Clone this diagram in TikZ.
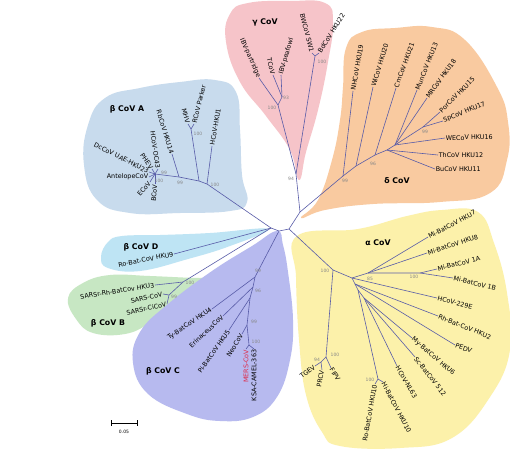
\documentclass[tikz,border=0pt]{standalone}
\usepackage{fontspec}
\setmainfont{DejaVu Sans}
\usepackage{tikz}
\usetikzlibrary{arrows}
\usetikzlibrary{positioning}

\definecolor{branchcol}{RGB}{88,92,168}
\definecolor{bootcol}{RGB}{135,135,135}
\definecolor{cladeA}{RGB}{200,219,237}
\definecolor{cladeG}{RGB}{246,196,201}
\definecolor{cladeDl}{RGB}{249,202,160}
\definecolor{cladeAl}{RGB}{252,241,170}
\definecolor{cladeD}{RGB}{190,228,244}
\definecolor{cladeB}{RGB}{199,231,195}
\definecolor{cladeC}{RGB}{183,186,239}
\definecolor{merscol}{RGB}{222,40,70}

\begin{document}
\begin{tikzpicture}[x=1pt,y=-1pt,
  branch/.style={draw=branchcol,line width=0.6pt},
  leaf/.style={font=\fontsize{6.4}{7}\selectfont,inner sep=0.6pt},
  boot/.style={font=\fontsize{4.5}{5}\selectfont,text=bootcol,inner sep=0pt},
  clade/.style={font=\fontsize{7.8}{9}\selectfont\bfseries}]
  \fill[white] (0,0) rectangle (510,450);
  \useasboundingbox (0,0) rectangle (510,450);

  % clade areas
  \fill[cladeA] plot[smooth cycle,tension=0.75] coordinates {(84,165) (88,125) (105,98) (140,88) (180,82) (215,80) (236,92) (240,130) (242,175) (247,202) (230,211) (180,213) (130,213) (97,200)};
  \fill[cladeG] plot[smooth cycle,tension=0.75] coordinates {(226,42) (230,14) (248,3) (290,1) (325,3) (333,22) (328,62) (318,110) (306,152) (299,180) (290,150) (266,116) (240,82)};
  \fill[cladeDl] plot[smooth cycle,tension=0.75] coordinates {(301,218) (318,200) (332,160) (340,120) (343,87) (346,48) (362,32) (395,28) (432,27) (465,40) (497,87) (508,122) (507,160) (490,193) (440,202) (373,204) (325,210)};
  \fill[cladeAl] plot[smooth cycle,tension=0.7] coordinates {(297,236) (358,229) (407,216) (442,210) (478,212) (494,243) (507,293) (510,350) (490,397) (452,438) (400,448) (340,446) (322,432) (306,395) (299,340) (296,277)};
  \fill[cladeD] plot[smooth cycle,tension=0.7] coordinates {(101,257) (108,242) (122,236) (160,235) (210,233) (268,229) (230,246) (188,259) (140,271) (108,268)};
  \fill[cladeB] plot[smooth cycle,tension=0.7] coordinates {(68,298) (83,283) (110,275) (150,276) (200,278) (212,276) (178,304) (150,323) (125,334) (93,333) (76,319)};
  \fill[cladeC] plot[smooth cycle,tension=0.7] coordinates {(277,231) (283,245) (288,272) (293,320) (290,360) (277,397) (253,417) (220,421) (187,414) (148,394) (133,363) (140,332) (168,304) (212,271) (252,246)};

  % clade names
  \node[clade] (nA) at (127,109) {β CoV A};
  \node[clade] (nG) at (265,22) {γ CoV};
  \node[clade] (nDl) at (397,181) {δ CoV};
  \node[clade] (nAl) at (378,243) {α CoV};
  \node[clade] (nD) at (141,247) {β CoV D};
  \node[clade] (nB) at (108,323) {β CoV B};
  \node[clade] (nC) at (163,371) {β CoV C};

  % root
  \coordinate (A) at (271,228);
  \coordinate (B) at (279,231);
  \coordinate (C) at (289,229);
  \draw[branch] (A) -- (B) -- (C);

  % beta CoV A
  \coordinate (a1) at (207,184);
  \coordinate (a2) at (199,181);
  \coordinate (a3) at (179,177);
  \coordinate (a4) at (155,174);
  \coordinate (mN) at (191,129);
  \coordinate (tHKU1) at (212,146);
  \coordinate (tMHV) at (188,124);
  \coordinate (tRCoV) at (194,124);
  \coordinate (tRb) at (172,154);
  \coordinate (tOC) at (158,169);
  \coordinate (tPHEV) at (152,169);
  \coordinate (tDc) at (149,172);
  \coordinate (tAnt) at (149,177);
  \coordinate (tE) at (150,182);
  \coordinate (tBC) at (155,184);
  \draw[branch] (A) -- (a1) -- (a2) -- (a3) -- (a4);
  \draw[branch] (a1) -- (tHKU1);
  \draw[branch] (a2) -- (mN) -- (tMHV);
  \draw[branch] (mN) -- (tRCoV);
  \draw[branch] (a3) -- (tRb);
  \draw[branch] (a4) -- (tOC);
  \draw[branch] (a4) -- (tPHEV);
  \draw[branch] (a4) -- (tDc);
  \draw[branch] (a4) -- (tAnt);
  \draw[branch] (a4) -- (tE);
  \draw[branch] (a4) -- (tBC);
  \node[leaf,anchor=west,rotate=80] (lHKU1) at (tHKU1) {HCoV-HKU1};
  \node[leaf,anchor=west,rotate=76] (lRCoV) at (tRCoV) {RCoV Parker};
  \node[leaf,anchor=east,rotate=-75] (lMHV) at (tMHV) {MHV};
  \node[leaf,anchor=east,rotate=-73] (lRb) at (tRb) {RbCoV HKU14};
  \node[leaf,anchor=east,rotate=-82] (lOC) at (tOC) {HCoV-OC43};
  \node[leaf,anchor=east,rotate=-55] (lPHEV) at (tPHEV) {PHEV};
  \node[leaf,anchor=east,rotate=-27] (lDc) at (tDc) {DcCoV UAE-HKU23};
  \node[leaf,anchor=east] (lAnt) at (tAnt) {AntelopeCoV};
  \node[leaf,anchor=east,rotate=50] (lE) at (tE) {ECoV};
  \node[leaf,anchor=east,rotate=85] (lBC) at (tBC) {BCoV};
  \node[boot] (bA1) at (215,185) {100};
  \node[boot] (bA2) at (198,134) {100};
  \node[boot] (bA3) at (180,183) {99};
  \node[boot] (bA4) at (164,173) {99};
  \node[boot] (bA5) at (159,181) {100};

  % beta CoV D
  \coordinate (tHKU9) at (174,254);
  \draw[branch] (A) -- (tHKU9);
  \node[leaf,anchor=east,rotate=11] (lHKU9) at (tHKU9) {Ro-Bat-CoV HKU9};

  % beta CoV B
  \coordinate (bN) at (183,282);
  \coordinate (sN) at (169,295);
  \coordinate (tHKU3) at (155,285);
  \coordinate (tSARS) at (163,294);
  \coordinate (tCi) at (167,304);
  \draw[branch] (A) -- (bN) -- (tHKU3);
  \draw[branch] (bN) -- (sN) -- (tSARS);
  \draw[branch] (sN) -- (tCi);
  \node[leaf,anchor=east,rotate=9] (lHKU3) at (tHKU3) {SARSr-Rh-BatCov HKU3};
  \node[leaf,anchor=east,rotate=12] (lSARS) at (tSARS) {SARS-CoV};
  \node[leaf,anchor=east,rotate=13] (lCi) at (tCi) {SARSr-CiCoV};
  \node[boot] (bB1) at (190,283) {100};
  \node[boot] (bB2) at (174,297) {99};

  % beta CoV C
  \coordinate (c1) at (255,277);
  \coordinate (c2) at (253,287);
  \coordinate (c3) at (250,298);
  \coordinate (c4) at (247,325);
  \coordinate (c5) at (249,345);
  \coordinate (tTy) at (212,309);
  \coordinate (tEri) at (223,316);
  \coordinate (tPi) at (229,330);
  \coordinate (tNeo) at (242,334);
  \coordinate (tMERS) at (246,349);
  \coordinate (tKSA) at (254,349);
  \draw[branch] (B) -- (c1) -- (c2) -- (c3) -- (c4) -- (c5);
  \draw[branch] (c1) -- (tTy);
  \draw[branch] (c2) -- (tEri);
  \draw[branch] (c3) -- (tPi);
  \draw[branch] (c4) -- (tNeo);
  \draw[branch] (c5) -- (tMERS);
  \draw[branch] (c5) -- (tKSA);
  \node[leaf,anchor=east,rotate=34] (lTy) at (tTy) {Ty-BatCoV HKU4};
  \node[leaf,anchor=east,rotate=43] (lEri) at (tEri) {ErinaceusCoV};
  \node[leaf,anchor=east,rotate=55] (lPi) at (tPi) {Pi-BatCoV HKU5};
  \node[leaf,anchor=east,rotate=58] (lNeo) at (tNeo) {NeoCoV};
  \node[leaf,anchor=east,rotate=90,text=merscol] (lMERS) at (tMERS) {MERS-CoV};
  \node[leaf,anchor=east,rotate=90] (lKSA) at (tKSA) {KSA-CAMEL-363};
  \node[boot] (bC1) at (258,271) {99};
  \node[boot] (bC2) at (258,291) {96};
  \node[boot] (bC3) at (254,322) {99};
  \node[boot] (bC4) at (256,342) {100};

  % alpha CoV
  \coordinate (p0) at (333,270);
  \coordinate (p1) at (326,357);
  \coordinate (p2) at (321,362);
  \coordinate (tTGEV) at (315,366);
  \coordinate (tPRCV) at (322,370);
  \coordinate (tFIPV) at (331,368);
  \coordinate (m0) at (352,278);
  \coordinate (m1) at (368,273);
  \coordinate (m2) at (420,273);
  \coordinate (m3) at (355,284);
  \coordinate (m4) at (358,290);
  \coordinate (m5) at (364,298);
  \coordinate (h1) at (378,379);
  \coordinate (tHKU7) at (428,237);
  \coordinate (tHKU8) at (427,253);
  \coordinate (t1A) at (437,269);
  \coordinate (t1B) at (453,278);
  \coordinate (t229E) at (437,298);
  \coordinate (tHKU2) at (438,316);
  \coordinate (tPEDV) at (455,345);
  \coordinate (tHKU6) at (412,338);
  \coordinate (tSc) at (415,357);
  \coordinate (tNL63) at (397,366);
  \coordinate (tRo10) at (375,384);
  \coordinate (tHi10) at (383,382);
  \draw[branch] (C) -- (p0) -- (p1) -- (p2) -- (tTGEV);
  \draw[branch] (p2) -- (tPRCV);
  \draw[branch] (p1) -- (tFIPV);
  \draw[branch] (p0) -- (m0) -- (m1) -- (m2) -- (t1A);
  \draw[branch] (m2) -- (t1B);
  \draw[branch] (m1) -- (tHKU7);
  \draw[branch] (m1) -- (tHKU8);
  \draw[branch] (m0) -- (t229E);
  \draw[branch] (m0) -- (m3) -- (m4) -- (m5) -- (tHKU6);
  \draw[branch] (m3) -- (tHKU2);
  \draw[branch] (m3) -- (tPEDV);
  \draw[branch] (m5) -- (tSc);
  \draw[branch] (m5) -- (tNL63);
  \draw[branch] (m4) -- (h1) -- (tRo10);
  \draw[branch] (h1) -- (tHi10);
  \node[leaf,anchor=east,rotate=38] (lTGEV) at (tTGEV) {TGEV};
  \node[leaf,anchor=east,rotate=80] (lPRCV) at (tPRCV) {PRCV};
  \node[leaf,anchor=west,rotate=-58] (lFIPV) at (tFIPV) {FIPV};
  \node[leaf,anchor=west,rotate=28] (lHKU7) at (tHKU7) {Mi-BatCoV HKU7};
  \node[leaf,anchor=west,rotate=18] (lHKU8) at (tHKU8) {Mi-BatCoV HKU8};
  \node[leaf,anchor=west,rotate=14] (l1A) at (t1A) {Mi-BatCoV 1A};
  \node[leaf,anchor=west,rotate=-14] (l1B) at (t1B) {Mi-BatCoV 1B};
  \node[leaf,anchor=west,rotate=-15] (l229E) at (t229E) {HCoV-229E};
  \node[leaf,anchor=west,rotate=-22] (lHKU2) at (tHKU2) {Rh-Bat-CoV HKU2};
  \node[leaf,anchor=west,rotate=-20] (lPEDV) at (tPEDV) {PEDV};
  \node[leaf,anchor=west,rotate=-41] (lHKU6) at (tHKU6) {My-BatCoV HKU6};
  \node[leaf,anchor=west,rotate=-52] (lSc) at (tSc) {Sc-BatCoV 512};
  \node[leaf,anchor=west,rotate=-60] (lNL63) at (tNL63) {HCoV-NL63};
  \node[leaf,anchor=west,rotate=-62] (lHi10) at (tHi10) {Hi-BatCoV HKU10};
  \node[leaf,anchor=east,rotate=80] (lRo10) at (tRo10) {Ro-BatCoV HKU10};
  \node[boot] (bAl1) at (325,271) {100};
  \node[boot] (bAl2) at (335,355) {100};
  \node[boot] (bAl3) at (317,360) {94};
  \node[boot] (bAl4) at (370,279) {85};
  \node[boot] (bAl5) at (414,277) {100};
  \node[boot] (bAl6) at (370,380) {100};

  % gamma CoV
  \coordinate (gd) at (300,212);
  \coordinate (g0) at (296,174);
  \coordinate (gI) at (278,105);
  \coordinate (gT) at (282,97);
  \coordinate (gB) at (315,56);
  \coordinate (tPart) at (259,78);
  \coordinate (tTCoV) at (273,75);
  \coordinate (tPea) at (281,75);
  \coordinate (tBW) at (312,53);
  \coordinate (tBd) at (319,53);
  \draw[branch] (C) -- (gd) -- (g0) -- (gI) -- (tPart);
  \draw[branch] (gI) -- (gT) -- (tTCoV);
  \draw[branch] (gT) -- (tPea);
  \draw[branch] (g0) -- (gB) -- (tBW);
  \draw[branch] (gB) -- (tBd);
  \node[leaf,anchor=east,rotate=-66] (lPart) at (tPart) {IBV-partridge};
  \node[leaf,anchor=east,rotate=-77] (lTCoV) at (tTCoV) {TCoV};
  \node[leaf,anchor=west,rotate=74] (lPea) at (tPea) {IBV-peafowl};
  \node[leaf,anchor=east,rotate=-76] (lBW) at (tBW) {BWCoV SW1};
  \node[leaf,anchor=west,rotate=58] (lBd) at (tBd) {BdCoV HKU22};
  \node[boot] (bG1) at (291,179) {94};
  \node[boot] (bG2) at (272,108) {100};
  \node[boot] (bG3) at (286,98) {93};
  \node[boot] (bG4) at (322,62) {100};

  % delta CoV
  \coordinate (d1) at (343,176);
  \coordinate (d2) at (356,166);
  \coordinate (d3) at (375,155);
  \coordinate (d4) at (387,150);
  \coordinate (d5) at (395,145);
  \coordinate (d6) at (423,127);
  \coordinate (tNH) at (353,91);
  \coordinate (tWi) at (373,87);
  \coordinate (tCm) at (396,88);
  \coordinate (tMun) at (417,90);
  \coordinate (tMR) at (427,98);
  \coordinate (tPor) at (440,112);
  \coordinate (tSp) at (443,121);
  \coordinate (tWE) at (445,138);
  \coordinate (tTh) at (438,155);
  \coordinate (tBu) at (435,169);
  \draw[branch] (gd) -- (d1) -- (d2) -- (d3) -- (d4) -- (d5) -- (d6) -- (tPor);
  \draw[branch] (d1) -- (tNH);
  \draw[branch] (d2) -- (tWi);
  \draw[branch] (d3) -- (tCm);
  \draw[branch] (d4) -- (tTh);
  \draw[branch] (d4) -- (tBu);
  \draw[branch] (d5) -- (tMun);
  \draw[branch] (d5) -- (tMR);
  \draw[branch] (d5) -- (tWE);
  \draw[branch] (d6) -- (tSp);
  \node[leaf,anchor=west,rotate=80] (lNH) at (tNH) {NHCoV HKU19};
  \node[leaf,anchor=west,rotate=73] (lWi) at (tWi) {WiCoV HKU20};
  \node[leaf,anchor=west,rotate=70] (lCm) at (tCm) {CmCoV HKU21};
  \node[leaf,anchor=west,rotate=68] (lMun) at (tMun) {MunCoV HKU13};
  \node[leaf,anchor=west,rotate=54] (lMR) at (tMR) {MRCoV HKU18};
  \node[leaf,anchor=west,rotate=45] (lPor) at (tPor) {PorCoV HKU15};
  \node[leaf,anchor=west,rotate=22] (lSp) at (tSp) {SpCoV HKU17};
  \node[leaf,anchor=west,rotate=1] (lWE) at (tWE) {WECoV HKU16};
  \node[leaf,anchor=west] (lTh) at (tTh) {ThCoV HKU12};
  \node[leaf,anchor=west] (lBu) at (tBu) {BuCoV HKU11};
  \node[boot] (bDl1) at (345,181) {99};
  \node[boot] (bDl2) at (373,164) {96};
  \node[boot] (bDl3) at (425,132) {99};

  % scale
  \coordinate (sc1) at (111,423);
  \coordinate (sc2) at (137,423);
  \draw[|-|,line width=0.5pt] (sc1) -- (sc2);
  \node[boot,text=black] (lsc) at (124,432) {0.05};
\end{tikzpicture}
\end{document}
